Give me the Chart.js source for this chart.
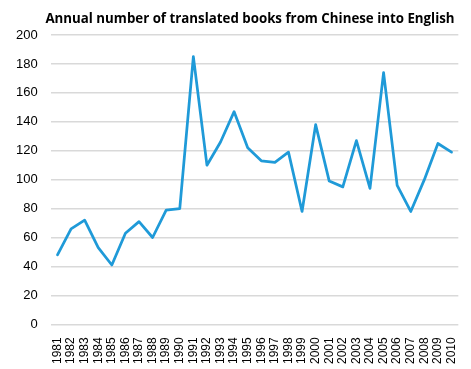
<!DOCTYPE html>
<html>
<head>
<meta charset="utf-8">
<script src="https://cdn.jsdelivr.net/npm/chart.js@4/dist/chart.umd.min.js"></script>
<style>
  html, body { margin: 0; padding: 0; background: #fff; }
  #wrap { position: relative; width: 471px; height: 369px; }
  #title {
    position: absolute; left: 0; top: 9px; width: 500px; text-align: center;
    font-family: 'Open Sans', sans-serif; font-weight: bold; font-size: 13.3px;
    color: #000; white-space: nowrap; line-height: 18px;
  }
</style>
</head>
<body>
<div id="wrap">
  <div id="title">Annual number of translated books from Chinese into English</div>
  <canvas id="chart"></canvas>
</div>
<script>
// Years and book counts
const years = ['1981', '1982', '1983', '1984', '1985', '1986', '1987', '1988', '1989', '1990',
    '1991', '1992', '1993', '1994', '1995', '1996', '1997', '1998', '1999', '2000',
    '2001', '2002', '2003', '2004', '2005', '2006', '2007', '2008', '2009', '2010'];
const books = [48, 66, 72, 53, 41, 63, 71, 60, 79, 80,
    185, 110, 126, 147, 122, 113, 112, 119, 78, 138,
    99, 95, 127, 94, 174, 96, 78, 100, 125, 119];
const yTicks = [0, 20, 40, 60, 80, 100, 120, 140, 160, 180, 200];

const ctx = document.getElementById('chart').getContext('2d');
new Chart(ctx, {
    type: 'line',
    data: {
        labels: years,
        datasets: [{
            data: books,
            borderColor: '#1f9ad8',
            borderWidth: 2.75,
            borderJoinStyle: 'round',
            borderCapStyle: 'round',
            pointRadius: 0,
            tension: 0,
            fill: false
        }]
    },
    options: {
        responsive: true,
        maintainAspectRatio: false,
        animation: false,
        layout: { padding: { left: 3, right: 5, top: 35, bottom: 0 } },
        plugins: {
            legend: { display: false },
            tooltip: { enabled: false },
            title: { display: false }
        },
        scales: {
            x: {
                offset: true,
                grid: { display: false },
                border: { display: false },
                ticks: {
                    color: '#000',
                    font: { family: 'Liberation Sans', size: 12 },
                    maxRotation: 90,
                    minRotation: 90,
                    autoSkip: false,
                    padding: 5
                }
            },
            y: {
                min: 0,
                max: 200,
                afterBuildTicks: axis => { axis.ticks = yTicks.map(v => ({ value: v })); },
                grid: { color: '#d9d9d9', lineWidth: 1.5, drawTicks: false },
                border: { display: false },
                ticks: {
                    color: '#000',
                    font: { family: 'Liberation Sans', size: 13 },
                    padding: 13
                }
            }
        }
    }
});
</script>
</body>
</html>
